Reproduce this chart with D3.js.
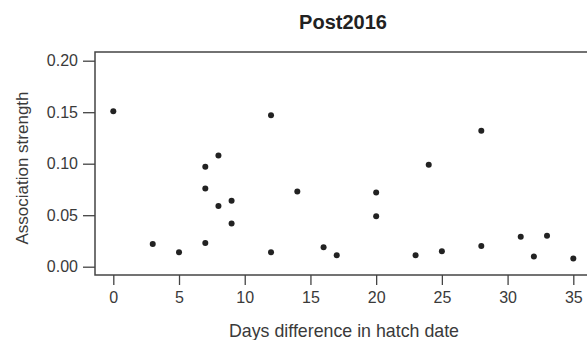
<!DOCTYPE html>
<html>
<head>
<meta charset="utf-8">
<script src="https://cdn.jsdelivr.net/npm/d3@7"></script>
<style>
  body { margin: 0; background: #fff; }
  svg { display: block; font-family: "Liberation Sans", Arial, sans-serif; }
  .axis text { fill: #3a3a3a; font-size: 16px; }
  .axis line { stroke: #444; stroke-width: 1.3; }
  .axis path { display: none; }
</style>
</head>
<body>
<div id="chart"></div>
<script>
// datos
var days = [0, 3, 5, 7, 7, 7, 8, 8, 9, 9, 12, 12, 14, 16, 17, 20, 20, 23, 24, 25, 28, 28, 31, 32, 33, 35];
var strength = [0.151, 0.022, 0.014, 0.097, 0.076, 0.023, 0.108, 0.059, 0.064, 0.042, 0.147, 0.014, 0.073,
                0.019, 0.011, 0.072, 0.049, 0.011, 0.099, 0.015, 0.132, 0.020, 0.029, 0.010, 0.030, 0.008];
var xTicks = [0, 5, 10, 15, 20, 25, 30, 35];
var yTicks = [0, 0.05, 0.10, 0.15, 0.20];

var width = 587, height = 340;
var box = { left: 95, top: 52, bottom: 275, right: 600 };

var svg = d3.select('#chart').append('svg')
    .attr('width', width)
    .attr('height', height);

var x = d3.scaleLinear().domain([0, 35]).range([113.3, 573.3]);
var y = d3.scaleLinear().domain([0, 0.2]).range([266.7, 60.7]);

// marco del gráfico
svg.append('rect')
    .attr('x', box.left)
    .attr('y', box.top)
    .attr('width', box.right - box.left)
    .attr('height', box.bottom - box.top)
    .attr('fill', 'none')
    .attr('stroke', '#444')
    .attr('stroke-width', 1.5);

svg.append('g')
    .attr('class', 'axis')
    .attr('transform', `translate(${box.left},0)`)
    .call(d3.axisLeft(y).tickValues(yTicks).tickFormat(d3.format('.2f')).tickSize(12).tickPadding(5));

svg.append('g')
    .attr('class', 'axis')
    .attr('transform', `translate(0,${box.bottom})`)
    .call(d3.axisBottom(x).tickValues(xTicks).tickSize(10).tickPadding(7));

// puntos
svg.append('g')
    .selectAll('circle')
    .data(days)
    .enter()
    .append('circle')
    .attr('cx', d => x(d))
    .attr('cy', (d, i) => y(strength[i]))
    .attr('r', 3)
    .attr('fill', '#222');

// títulos
svg.append('text')
    .attr('x', 343)
    .attr('y', 29)
    .attr('text-anchor', 'middle')
    .style('font-size', '20px')
    .style('font-weight', 'bold')
    .attr('fill', '#222')
    .text('Post2016');

svg.append('text')
    .attr('x', 344)
    .attr('y', 337)
    .attr('text-anchor', 'middle')
    .style('font-size', '17.8px')
    .attr('fill', '#3a3a3a')
    .text('Days difference in hatch date');

svg.append('text')
    .attr('transform', 'translate(28,168) rotate(-90)')
    .attr('text-anchor', 'middle')
    .style('font-size', '17px')
    .attr('fill', '#3a3a3a')
    .text('Association strength');
</script>
</body>
</html>
